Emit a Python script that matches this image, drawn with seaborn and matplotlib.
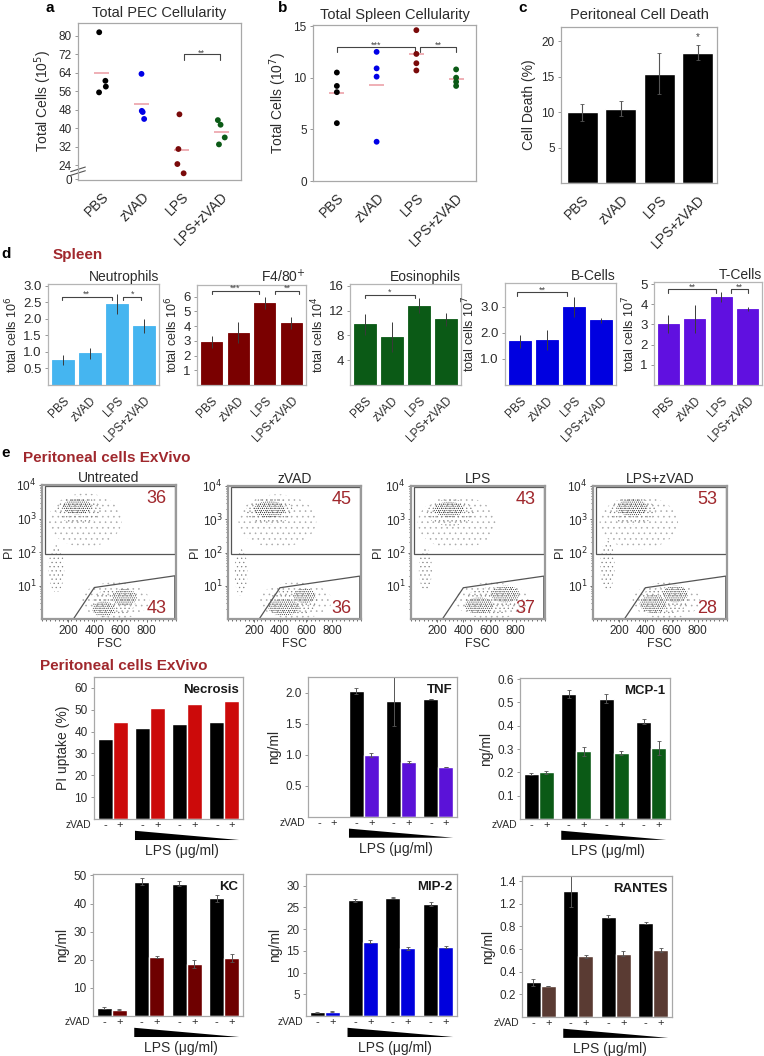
import numpy as np
import pandas as pd
import matplotlib
matplotlib.use("Agg")
import matplotlib.pyplot as plt
import matplotlib.transforms as mtransforms
from matplotlib.patches import Ellipse, Rectangle, Polygon
from matplotlib.ticker import FixedLocator, MultipleLocator
import seaborn as sns

# ---------------- data ----------------
groups = ["PBS", "zVAD", "LPS", "LPS+zVAD"]

# a: total PEC cellularity (10^5), lowest LPS point sits in the broken segment
pec_pbs = [81.5, 60.5, 55.5, 58.0]
pec_zvad = [63.5, 47.0, 44.0, 47.5]
pec_lps = [46.0, 31.0, 24.5, 20.5]
pec_lpszvad = [41.5, 43.5, 36.0, 33.0]

# b: total spleen cellularity (10^7)
spl_pbs = [10.5, 9.2, 8.6, 5.6]
spl_zvad = [12.5, 10.9, 10.1, 3.8]
spl_lps = [14.6, 12.3, 11.4, 10.7]
spl_lpszvad = [10.8, 10.0, 9.6, 9.2]

# c: peritoneal cell death (%)
death_vals = [10.0, 10.5, 15.4, 18.4]
death_err = [1.2, 1.0, 2.9, 1.1]

# d: spleen populations
neut_vals = [0.75, 0.96, 2.45, 1.78]
neut_err = [0.15, 0.16, 0.30, 0.22]
f480_vals = [2.9, 3.55, 5.55, 4.2]
f480_err = [0.4, 0.7, 0.4, 0.4]
eos_vals = [9.8, 7.8, 12.8, 10.6]
eos_err = [1.7, 2.4, 1.2, 1.0]
bcell_vals = [1.68, 1.72, 2.97, 2.48]
bcell_err = [0.25, 0.40, 0.38, 0.10]
tcell_vals = [3.0, 3.25, 4.35, 3.75]
tcell_err = [0.45, 0.70, 0.25, 0.10]

# e: flow cytometry, gate percentages
flow_titles = ["Untreated", "zVAD", "LPS", "LPS+zVAD"]
pct_dead = [36, 45, 43, 53]
pct_live = [43, 36, 37, 28]
# event clouds: (FSC centre, log10 PI centre, FSC width, log width, density level 0-3)
cl_untreated = [(330, 2.95, 560, 1.6, 0), (110, 1.5, 120, 1.4, 1), (560, 0.55, 520, 1.1, 0),
                (280, 3.25, 340, 0.8, 1), (270, 3.35, 220, 0.45, 3),
                (470, 0.3, 170, 0.45, 3), (630, 0.65, 190, 0.5, 3), (550, 0.5, 330, 0.8, 1)]
cl_zvad = [(380, 2.95, 600, 1.6, 0), (100, 1.4, 100, 1.4, 1), (520, 0.55, 560, 1.1, 0),
           (320, 3.25, 360, 0.8, 1), (320, 3.3, 240, 0.5, 3),
           (430, 0.35, 240, 0.5, 3), (590, 0.7, 170, 0.45, 3), (500, 0.5, 380, 0.8, 1)]
cl_lps = [(350, 2.9, 600, 1.6, 0), (110, 1.5, 100, 1.3, 1), (620, 0.55, 560, 1.1, 0),
          (300, 3.2, 360, 0.8, 1), (290, 3.3, 230, 0.45, 3),
          (520, 0.4, 220, 0.5, 3), (720, 0.75, 220, 0.5, 3), (620, 0.55, 420, 0.8, 1)]
cl_lpszvad = [(350, 2.9, 600, 1.6, 0), (110, 1.6, 110, 1.5, 1), (560, 0.55, 520, 1.1, 0),
              (300, 3.25, 360, 0.8, 1), (300, 3.35, 230, 0.5, 3),
              (460, 0.45, 200, 0.55, 3), (630, 0.75, 190, 0.5, 3), (540, 0.55, 380, 0.8, 1)]
gate_dead = (20, 1.94, 995, 2.04)
gate_live = [(240, 0.0), (400, 0.94), (1015, 1.29), (1015, 0.0)]

# e: ex vivo bars (black = zVAD -, coloured = zVAD +)
necro_black = [36.7, 41.6, 43.7, 44.2]
necro_col = [44.6, 50.6, 52.6, 53.8]
tnf_black = [0.0, 2.03, 1.86, 1.90]
tnf_black_err = [0.0, 0.05, 0.40, 0.0]
tnf_col = [0.0, 1.00, 0.88, 0.81]
tnf_col_err = [0.0, 0.03, 0.02, 0.0]
mcp_black = [0.193, 0.536, 0.516, 0.418]
mcp_black_err = [0.003, 0.018, 0.02, 0.01]
mcp_col = [0.20, 0.29, 0.283, 0.305]
mcp_col_err = [0.006, 0.02, 0.01, 0.03]
kc_black = [2.8, 47.8, 47.0, 41.8]
kc_black_err = [0.4, 1.2, 0.9, 1.3]
kc_col = [2.2, 21.0, 18.5, 20.6]
kc_col_err = [0.2, 0.3, 1.5, 1.3]
mip_black = [0.9, 26.6, 27.2, 25.8]
mip_black_err = [0.1, 0.4, 0.1, 0.5]
mip_col = [1.0, 17.1, 15.6, 15.9]
mip_col_err = [0.1, 0.3, 0.3, 0.3]
rantes_black = [0.305, 1.116, 0.887, 0.829]
rantes_black_err = [0.03, 0.14, 0.015, 0.01]
rantes_col = [0.277, 0.535, 0.561, 0.594]
rantes_col_err = [0.0, 0.01, 0.02, 0.02]
rantes_ticklabels = ["0.2", "0.4", "0.6", "0.8", "1.2", "1.4"]   # as printed

# ---------------- style ----------------
TXT = "#2b2b2b"
FRAME = "#a8a8a8"
DR = "#a0282d"
PINK = "#eb9aa2"
grp_colors = ["black", "#0000e6", "#7a0a0a", "#0b5a16"]

sns.set_style("white")
plt.rcParams["font.family"] = ["Liberation Sans", "DejaVu Sans"]
plt.rcParams["text.color"] = TXT
plt.rcParams["axes.labelcolor"] = TXT
plt.rcParams["hatch.linewidth"] = 0.4

W, H = 764, 1056
fig = plt.figure(figsize=(W / 100, H / 100), dpi=100)


def px_ax(l, t, r, b):
    return fig.add_axes([l / W, 1 - b / H, (r - l) / W, (b - t) / H])


def frame(ax, color=FRAME, lw=0.9):
    for s in ax.spines.values():
        s.set_visible(True)
        s.set_color(color)
        s.set_linewidth(lw)
    ax.tick_params(axis="y", left=True, length=2.5, width=0.6, color="#888888",
                   labelsize=8.5, pad=2, labelcolor=TXT)
    ax.tick_params(axis="x", bottom=False, labelcolor=TXT)


def bracket(ax, x1, x2, y, stars):
    lo, hi = ax.get_ylim()
    h = 0.035 * (hi - lo)
    ax.plot([x1, x1, x2, x2], [y - h, y, y, y - h], color="#444444", lw=0.8)
    ax.text((x1 + x2) / 2, y - 0.6 * h, stars, ha="center", va="bottom", fontsize=6.5, color="#444444")


def rot_labels(ax, fs):
    ax.set_xticks(range(4))
    ax.set_xticklabels(groups, rotation=45, ha="right", rotation_mode="anchor", fontsize=fs)
    ax.set_xlabel("")


# ---------------- a & b: dot plots ----------------
def dot_panel(rect, vals, jitter, ylabel, title):
    ax = px_ax(*rect)
    df = pd.DataFrame({"group": np.repeat(groups, 4), "cells": np.concatenate(vals)})
    sns.stripplot(data=df, x="group", y="cells", hue="group", order=groups, hue_order=groups,
                  palette=grp_colors, jitter=jitter, size=4.2, legend=False, ax=ax)
    means = df.groupby("group", sort=False)["cells"].mean().reindex(groups)
    ax.hlines(means.values, np.arange(4) - 0.19, np.arange(4) + 0.19, color=PINK, lw=1.1, zorder=1)
    ax.set_xlim(-0.6, 3.5)
    frame(ax)
    rot_labels(ax, 10)
    ax.set_ylabel(ylabel, fontsize=10, labelpad=3)
    ax.set_title(title, fontsize=10.5, pad=4, color=TXT)
    return ax


np.random.seed(5)
ax_a = dot_panel((78, 23, 241, 180), [pec_pbs, pec_zvad, pec_lps, pec_lpszvad], 0.12,
                 "Total Cells (10$^5$)", "Total PEC Cellularity")
ax_a.set_ylim(17.6, 85.5)
a_ticks = [18] + list(range(24, 81, 8))
ax_a.set_yticks(a_ticks)
ax_a.set_yticklabels(["0"] + [str(t) for t in range(24, 81, 8)])
brk = mtransforms.blended_transform_factory(ax_a.transAxes, ax_a.transData)
for off in (0.0, 1.6):
    ax_a.plot([-0.045, 0.045], [19.6 + off, 21.6 + off], transform=brk, color="#555555",
              lw=0.8, clip_on=False)
bracket(ax_a, 2.07, 2.96, 72, "**")

ax_b = dot_panel((313, 25, 476, 181), [spl_pbs, spl_zvad, spl_lps, spl_lpszvad], False,
                 "Total Cells (10$^7$)", "Total Spleen Cellularity")
ax_b.set_ylim(0, 15.1)
ax_b.set_yticks([0, 5, 10, 15])
bracket(ax_b, 0, 1.97, 13.0, "***")
bracket(ax_b, 2.1, 3.0, 13.0, "**")

# ---------------- c: bars ----------------
ax_c = px_ax(561, 27, 717, 183)
sns.barplot(x=groups, y=death_vals, color="black", saturation=1, width=0.8, errorbar=None, ax=ax_c)
xs = [p.get_x() + p.get_width() / 2 for p in ax_c.patches]
ax_c.errorbar(xs, death_vals, yerr=death_err, fmt="none", ecolor="#555555", elinewidth=0.8,
              capsize=1.2, capthick=0.6)
ax_c.set_ylim(0, 22)
ax_c.set_xlim(-0.55, 3.5)
ax_c.set_yticks([5, 10, 15, 20])
frame(ax_c)
rot_labels(ax_c, 10)
ax_c.set_ylabel("Cell Death (%)", fontsize=10, labelpad=4)
ax_c.set_title("Peritoneal Cell Death", fontsize=10.5, pad=6, color=TXT)
ax_c.text(xs[3], death_vals[3] + death_err[3] + 0.6, "*", ha="center", fontsize=7, color="#444444")

# ---------------- d: spleen panels ----------------
def spleen_panel(rect, vals, errs, color, title, ylabel, ylim, yticks, fmt, brackets):
    ax = px_ax(*rect)
    sns.barplot(x=groups, y=vals, color=color, saturation=1, width=0.8, errorbar=None,
                edgecolor=color, linewidth=0.6, ax=ax)
    xs = [p.get_x() + p.get_width() / 2 for p in ax.patches]
    ax.errorbar(xs, vals, yerr=errs, fmt="none", ecolor="#3a3a3a", elinewidth=0.7, capsize=0)
    ax.set_ylim(*ylim)
    ax.set_xlim(-0.55, 3.55)
    ax.set_yticks(yticks)
    ax.set_yticklabels([fmt.format(t) for t in yticks])
    frame(ax, color="#b5b5b5")
    ax.tick_params(axis="y", labelsize=9.5)
    rot_labels(ax, 8.5)
    ax.set_ylabel(ylabel, fontsize=9, labelpad=2)
    ax.set_title(title, loc="right", fontsize=10, pad=2, color=TXT)
    for x1, x2, y, s in brackets:
        bracket(ax, x1, x2, y, s)
    return ax


spleen_panel((48, 284, 159, 385), neut_vals, neut_err, "#45b5f0", "Neutrophils",
             "total cells 10$^6$", (0, 3.05), [0.5, 1.0, 1.5, 2.0, 2.5, 3.0], "{:.1f}",
             [(-0.05, 1.8, 2.67, "**"), (2.22, 2.9, 2.67, "*")])
spleen_panel((197, 285, 306, 385), f480_vals, f480_err, "#7a0000", "F4/80$^{+}$",
             "total cells 10$^6$", (0, 6.8), [1, 2, 3, 4, 5, 6], "{:d}",
             [(0, 1.8, 6.4, "***"), (2.4, 3.3, 6.4, "**")])
spleen_panel((350, 284, 461, 385), eos_vals, eos_err, "#0b5a16", "Eosinophils",
             "total cells 10$^4$", (0, 16.3), [4, 8, 12, 16], "{:d}",
             [(0, 1.85, 14.6, "*")])
spleen_panel((505, 283, 616, 385), bcell_vals, bcell_err, "#0000e0", "B-Cells",
             "total cells 10$^7$", (0, 3.9), [1.0, 2.0, 3.0], "{:.1f}",
             [(-0.1, 1.75, 3.55, "**")])
spleen_panel((654, 282, 762, 385), tcell_vals, tcell_err, "#6010e0", "T-Cells",
             "total cells 10$^7$", (0, 5.1), [1, 2, 3, 4, 5], "{:d}",
             [(0, 1.82, 4.73, "**"), (2.36, 3.0, 4.73, "**")])

# ---------------- e: flow cytometry ----------------
hatches = ["...", "....", ".....", "........"]
dot_cols = ["#a8a8a8", "#808080", "#5a5a5a", "#262626"]


def flow_panel(rect, title, clusters, dead, live):
    ax = px_ax(*rect)
    for fsc, pi, w, h, lvl in clusters:
        ax.add_patch(Ellipse((fsc, pi), w, h, facecolor="none", edgecolor=dot_cols[lvl],
                             hatch=hatches[lvl], lw=0))
    gx, gy, gw, gh = gate_dead
    ax.add_patch(Rectangle((gx, gy), gw, gh, fill=False, edgecolor="#555555", lw=0.9))
    ax.add_patch(Polygon(gate_live, closed=True, fill=False, edgecolor="#555555", lw=0.9))
    ax.set_xlim(0, 1024)
    ax.set_ylim(0, 4)
    for s in ax.spines.values():
        s.set_visible(True)
        s.set_color("#9a9a9a")
        s.set_linewidth(1.6)
    ax.set_xticks([200, 400, 600, 800])
    ax.xaxis.set_minor_locator(MultipleLocator(32))
    ax.set_yticks([1, 2, 3, 4])
    ax.set_yticklabels(["10$^{1}$", "10$^{2}$", "10$^{3}$", "10$^{4}$"])
    ax.yaxis.set_minor_locator(FixedLocator([k + np.log10(m) for k in range(4) for m in range(2, 10)]))
    ax.tick_params(which="both", bottom=True, left=True, color="#555555", width=0.6,
                   labelsize=8.5, pad=1.5, labelcolor=TXT)
    ax.tick_params(which="major", length=2.5)
    ax.tick_params(which="minor", length=1.5)
    ax.set_xlabel("FSC", fontsize=9, labelpad=1)
    ax.set_ylabel("PI", fontsize=9, labelpad=1)
    ax.set_title(title, fontsize=10, pad=2, color=TXT)
    ax.text(0.93, 0.90, str(dead), transform=ax.transAxes, ha="right", va="center",
            fontsize=13, color=DR)
    ax.text(0.93, 0.08, str(live), transform=ax.transAxes, ha="right", va="center",
            fontsize=13, color=DR)


flow_rects = [(42, 485, 176, 619), (228, 486, 361, 619), (411, 486, 545, 619), (593, 486, 727, 619)]
for rect, title, cl, d, l in zip(flow_rects, flow_titles,
                                 [cl_untreated, cl_zvad, cl_lps, cl_lpszvad], pct_dead, pct_live):
    flow_panel(rect, title, cl, d, l)

# ---------------- e: ex vivo bar panels ----------------
def exvivo_panel(rect, bvals, berr, cvals, cerr, color, name, ylim, yticks, ylabel, ticklabels=None):
    ax = px_ax(*rect)
    df = pd.DataFrame({"dose": ["d1", "d2", "d3", "d4"] * 2,
                       "zvad": ["-"] * 4 + ["+"] * 4,
                       "value": list(bvals) + list(cvals)})
    sns.barplot(data=df, x="dose", y="value", hue="zvad", hue_order=["-", "+"],
                palette=["black", color], saturation=1, width=0.8, errorbar=None,
                legend=False, ax=ax)
    lab = mtransforms.blended_transform_factory(ax.transData, ax.transAxes)
    for cont, vals, err, sign in zip(ax.containers, [bvals, cvals], [berr, cerr], ["-", "+"]):
        xs = [b.get_x() + b.get_width() / 2 for b in cont]
        if err is not None:
            keep = [i for i, v in enumerate(vals) if v > 0]
            ax.errorbar([xs[i] for i in keep], [vals[i] for i in keep], yerr=[err[i] for i in keep],
                        fmt="none", ecolor="#555555", elinewidth=0.7, capsize=1.5, capthick=0.6)
        for x in xs:
            ax.text(x, -0.045, sign, transform=lab, ha="center", va="center", fontsize=8)
    ax.text(-0.02, -0.045, "zVAD", transform=ax.transAxes, ha="right", va="center", fontsize=7.5)
    ax.fill([0.6, 3.4, 0.6], [-0.083, -0.148, -0.148], transform=lab, color="black",
            clip_on=False, lw=0)
    ax.text(1.85, -0.225, "LPS (\u03bcg/ml)", transform=lab, ha="center", va="center", fontsize=10)
    ax.set_xlim(-0.5, 3.5)
    ax.set_ylim(*ylim)
    ax.set_yticks(yticks)
    if ticklabels is not None:
        ax.set_yticklabels(ticklabels)
    frame(ax)
    ax.set_xticks([])
    ax.set_xlabel("")
    ax.set_ylabel(ylabel, fontsize=10, labelpad=3)
    ax.text(0.97, 0.95, name, transform=ax.transAxes, ha="right", va="top",
            fontsize=9.5, fontweight="bold", color="#1a1a1a")
    return ax


ax_n = exvivo_panel((94, 677, 243, 819), necro_black, None, necro_col, None, "#cc0a0a",
                    "Necrosis", (0, 65), [10, 20, 30, 40, 50, 60], "PI uptake (%)")
ax_t = exvivo_panel((308, 677, 457, 817), tnf_black, tnf_black_err, tnf_col, tnf_col_err,
                    "#5b12d8", "TNF", (0, 2.25), [0.5, 1.0, 1.5, 2.0], "ng/ml")
ax_t.set_yticklabels(["0.5", "1.0", "1.5", "2.0"])
ax_m = exvivo_panel((520, 678, 670, 819), mcp_black, mcp_black_err, mcp_col, mcp_col_err,
                    "#0b5a16", "MCP-1", (0, 0.605), [0.1, 0.2, 0.3, 0.4, 0.5, 0.6], "ng/ml")
ax_k = exvivo_panel((93, 874, 243, 1016), kc_black, kc_black_err, kc_col, kc_col_err,
                    "#6e0000", "KC", (0, 50.5), [10, 20, 30, 40, 50], "ng/ml")
ax_p = exvivo_panel((306, 874, 457, 1016), mip_black, mip_black_err, mip_col, mip_col_err,
                    "#0000dd", "MIP-2", (0, 32.7), [5, 10, 15, 20, 25, 30], "ng/ml")
ax_r = exvivo_panel((522, 876, 672, 1017), rantes_black, rantes_black_err, rantes_col,
                    rantes_col_err, "#5a3b33", "RANTES", (0, 1.246),
                    [0.2, 0.4, 0.6, 0.8, 1.0, 1.2], "ng/ml", rantes_ticklabels)

# ---------------- panel letters and section headers ----------------
def ftext(x, y, s, **kw):
    fig.text(x / W, 1 - y / H, s, va="center", **kw)


ftext(45, 8, "a", fontsize=11, fontweight="bold", color="black")
ftext(278, 8, "b", fontsize=11, fontweight="bold", color="black")
ftext(518, 8, "c", fontsize=11, fontweight="bold", color="black")
ftext(1, 254, "d", fontsize=11, fontweight="bold", color="black")
ftext(53, 255, "Spleen", fontsize=11, fontweight="bold", color=DR)
ftext(1, 453, "e", fontsize=11, fontweight="bold", color="black")
ftext(23, 458, "Peritoneal cells ExVivo", fontsize=11, fontweight="bold", color=DR)
ftext(40, 666, "Peritoneal cells ExVivo", fontsize=11, fontweight="bold", color=DR)

fig.savefig("out.png", dpi=100)
